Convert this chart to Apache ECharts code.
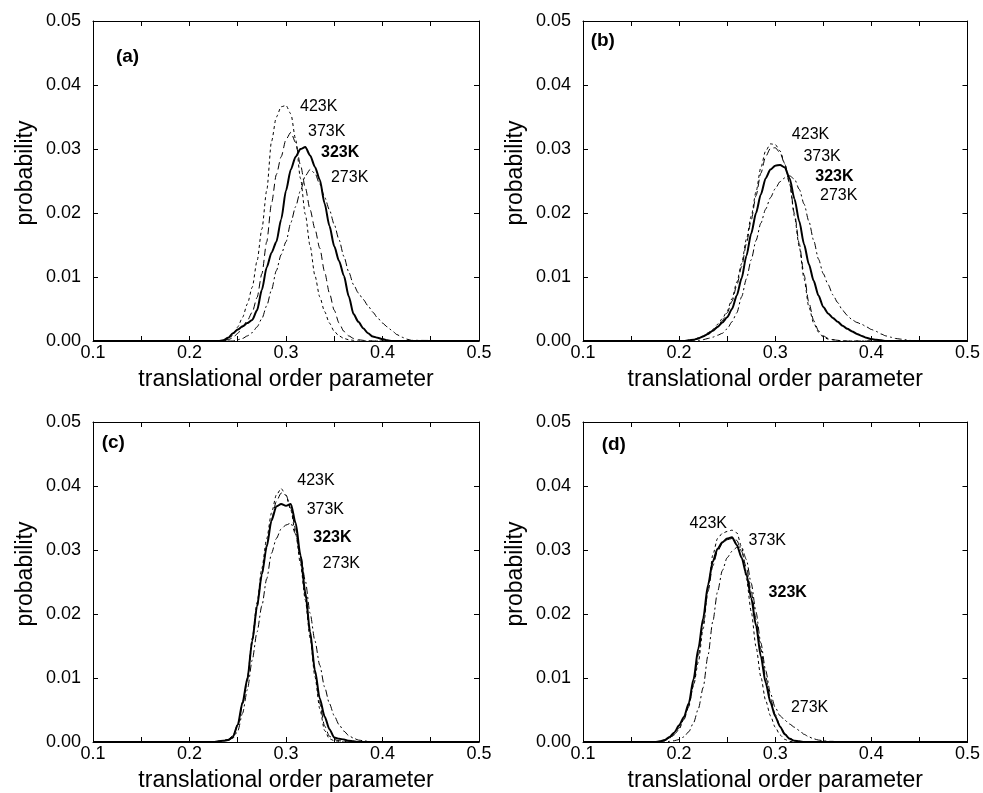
<!DOCTYPE html>
<html><head><meta charset="utf-8">
<script src="https://cdn.jsdelivr.net/npm/echarts@6/dist/echarts.min.js"></script>
<style>html,body{margin:0;padding:0;background:#fff}#c{width:983px;height:793px}</style>
</head><body><div id="c"></div>
<script>
// ---------- DATA ----------
const xAxisTitle = 'translational order parameter';
const yAxisTitle = 'probability';
const tempLabels = ['423K', '373K', '323K', '273K'];
const panelNames = ['(a)', '(b)', '(c)', '(d)'];

// panel (a)
const xsA = [0.1,0.23,0.235,0.24,0.245,0.25,0.255,0.26,0.265,0.27,0.275,0.28,0.285,0.29,0.295,0.30,0.305,0.31,0.315,0.32,0.325,0.33,0.335,0.34,0.345,0.35,0.355,0.36,0.365,0.37,0.375,0.38,0.385,0.39,0.395,0.40,0.405,0.41,0.415,0.42,0.425,0.43,0.5];
const a423 = [0,0,0.0001,0.0003,0.0009,0.0022,0.0037,0.0058,0.0084,0.0125,0.0175,0.0235,0.0312,0.0350,0.0366,0.0368,0.0355,0.0315,0.0254,0.0198,0.0148,0.0102,0.0069,0.0046,0.0028,0.0015,0.0008,0.0004,0.0002,0.0001,0,0,0,0,0,0,0,0,0,0,0,0,0];
const a373 = [0,0,0,0.0002,0.0005,0.0012,0.0022,0.0032,0.0045,0.0068,0.0105,0.0155,0.0215,0.0260,0.0288,0.0315,0.0326,0.0310,0.0275,0.0240,0.0205,0.0175,0.0145,0.0108,0.0075,0.0048,0.0028,0.0015,0.0008,0.0004,0.0002,0.0001,0,0,0,0,0,0,0,0,0,0,0];
const a323 = [0,0,0.0001,0.0005,0.0012,0.0018,0.0023,0.0028,0.0033,0.0048,0.0080,0.0115,0.0138,0.0155,0.0190,0.0235,0.0268,0.0288,0.0300,0.0303,0.0290,0.0272,0.0252,0.0215,0.0180,0.0148,0.0125,0.0102,0.0070,0.0042,0.0030,0.0020,0.0012,0.0007,0.0005,0.0003,0.0001,0,0,0,0,0,0];
const a273 = [0,0,0,0,0,0.0002,0.0004,0.0008,0.0013,0.0022,0.0035,0.0055,0.0080,0.0110,0.0135,0.0155,0.0185,0.0210,0.0235,0.0258,0.0268,0.0262,0.0245,0.0225,0.0205,0.0182,0.0158,0.0132,0.0108,0.0088,0.0075,0.0065,0.0055,0.0045,0.0036,0.0028,0.0022,0.0016,0.0010,0.0006,0.0003,0.0001,0];

// panel (b)
const xsB = [0.1,0.20,0.205,0.21,0.215,0.22,0.225,0.23,0.235,0.24,0.245,0.25,0.255,0.26,0.265,0.27,0.275,0.28,0.285,0.29,0.295,0.30,0.305,0.31,0.315,0.32,0.325,0.33,0.335,0.34,0.345,0.35,0.355,0.36,0.365,0.37,0.375,0.38,0.385,0.39,0.395,0.40,0.405,0.41,0.415,0.42,0.425,0.43,0.435,0.44,0.445,0.45,0.5];
const b423 = [0,0,0,0.0001,0.0002,0.0005,0.0008,0.0013,0.0018,0.0026,0.0035,0.0047,0.0066,0.0092,0.0121,0.0159,0.0195,0.0233,0.0271,0.0297,0.0308,0.0307,0.0297,0.0277,0.0245,0.0195,0.0147,0.0097,0.0053,0.0028,0.0014,0.0006,0.0003,0.0002,0.0001,0,0,0,0,0,0,0,0,0,0,0,0,0,0,0,0,0,0];
const b373 = [0,0,0,0.0001,0.0002,0.0004,0.0007,0.0011,0.0016,0.0023,0.0032,0.0044,0.0062,0.0087,0.0116,0.0152,0.0189,0.0227,0.0262,0.0288,0.0301,0.0302,0.0294,0.0276,0.0246,0.0199,0.0152,0.0103,0.0060,0.0032,0.0016,0.0008,0.0004,0.0002,0.0001,0,0,0,0,0,0,0,0,0,0,0,0,0,0,0,0,0,0];
const b323 = [0,0,0,0.0001,0.0002,0.0004,0.0007,0.0011,0.0016,0.0022,0.0029,0.0037,0.0050,0.0071,0.0098,0.0133,0.0168,0.0200,0.0229,0.0254,0.0268,0.0274,0.0275,0.0271,0.0254,0.0222,0.0187,0.0151,0.0120,0.0094,0.0071,0.0053,0.0043,0.0036,0.0030,0.0024,0.0019,0.0015,0.0011,0.0008,0.0005,0.0003,0.0002,0.0001,0,0,0,0,0,0,0,0,0];
const b273 = [0,0,0,0,0,0.0001,0.0002,0.0004,0.0006,0.0009,0.0012,0.0019,0.0030,0.0044,0.0069,0.0097,0.0127,0.0157,0.0184,0.0206,0.0224,0.0238,0.0249,0.0255,0.0258,0.0253,0.0237,0.0214,0.0187,0.0157,0.0128,0.0105,0.0088,0.0072,0.0060,0.0048,0.0040,0.0033,0.0029,0.0026,0.0022,0.0018,0.0015,0.0011,0.0008,0.0006,0.0004,0.0003,0.0002,0.0001,0,0,0];

// panel (c)
const xsC = [0.1,0.22,0.225,0.23,0.235,0.24,0.245,0.25,0.255,0.26,0.265,0.27,0.275,0.28,0.285,0.29,0.295,0.30,0.305,0.31,0.315,0.32,0.325,0.33,0.335,0.34,0.345,0.35,0.355,0.36,0.365,0.37,0.375,0.38,0.385,0.39,0.395,0.40,0.5];
const c423 = [0,0,0,0.0001,0.0002,0.0004,0.0010,0.0028,0.0062,0.0101,0.0162,0.0218,0.0272,0.0318,0.0358,0.0386,0.0396,0.0385,0.0362,0.0325,0.0278,0.0222,0.0162,0.0102,0.0052,0.0018,0.0005,0.0002,0.0001,0,0,0,0,0,0,0,0,0,0];
const c373 = [0,0,0,0.0001,0.0002,0.0004,0.0009,0.0025,0.0058,0.0096,0.0155,0.0210,0.0262,0.0308,0.0348,0.0376,0.0389,0.0386,0.0365,0.0332,0.0284,0.0228,0.0168,0.0110,0.0060,0.0025,0.0009,0.0004,0.0002,0.0001,0,0,0,0,0,0,0,0,0];
const c323 = [0,0,0,0.0001,0.0002,0.0003,0.0008,0.0027,0.0062,0.0099,0.0158,0.0212,0.0262,0.0305,0.0346,0.0368,0.0372,0.0369,0.0372,0.0342,0.0292,0.0234,0.0172,0.0112,0.0068,0.0040,0.0020,0.0007,0.0005,0.0004,0.0002,0.0001,0,0,0,0,0,0,0];
const c273 = [0,0,0,0.0001,0.0002,0.0003,0.0006,0.0017,0.0045,0.0082,0.0128,0.0172,0.0213,0.0255,0.0295,0.0318,0.0333,0.0339,0.0342,0.0325,0.0294,0.0252,0.0201,0.0158,0.0120,0.0086,0.0060,0.0041,0.0027,0.0017,0.0010,0.0006,0.0003,0.0002,0.0001,0,0,0,0];

// panel (d)
const xsD = [0.1,0.17,0.175,0.18,0.185,0.19,0.195,0.20,0.205,0.21,0.215,0.22,0.225,0.23,0.235,0.24,0.245,0.25,0.255,0.26,0.265,0.27,0.275,0.28,0.285,0.29,0.295,0.30,0.305,0.31,0.315,0.32,0.325,0.33,0.335,0.34,0.345,0.35,0.355,0.36,0.365,0.37,0.5];
const d423 = [0,0,0,0.0001,0.0003,0.0006,0.0011,0.0020,0.0036,0.0057,0.0088,0.0125,0.0177,0.0236,0.0292,0.0318,0.0326,0.0329,0.0331,0.0327,0.0305,0.0255,0.0204,0.0149,0.0102,0.0065,0.0041,0.0023,0.0011,0.0004,0.0001,0,0,0,0,0,0,0,0,0,0,0,0];
const d373 = [0,0,0,0.0001,0.0002,0.0006,0.0012,0.0022,0.0035,0.0055,0.0090,0.0136,0.0185,0.0235,0.0275,0.0298,0.0310,0.0316,0.0318,0.0315,0.0298,0.0272,0.0235,0.0192,0.0145,0.0102,0.0068,0.0043,0.0025,0.0013,0.0006,0.0002,0.0001,0,0,0,0,0,0,0,0,0,0];
const d323 = [0,0,0,0.0001,0.0003,0.0008,0.0015,0.0026,0.0039,0.0060,0.0098,0.0146,0.0193,0.0245,0.0282,0.0302,0.0312,0.0318,0.0320,0.0308,0.0288,0.0262,0.0225,0.0182,0.0134,0.0093,0.0062,0.0040,0.0024,0.0012,0.0005,0.0002,0.0001,0,0,0,0,0,0,0,0,0,0];
const d273 = [0,0,0,0,0,0.0001,0.0002,0.0004,0.0008,0.0016,0.0030,0.0052,0.0085,0.0135,0.0188,0.0235,0.0268,0.0288,0.0298,0.0304,0.0305,0.0285,0.0248,0.0203,0.0155,0.0112,0.0076,0.0054,0.0041,0.0034,0.0028,0.0023,0.0018,0.0012,0.0008,0.0005,0.0003,0.0002,0.0001,0.0001,0,0,0];

// ---------- LAYOUT (annotation anchors in data units) ----------
const labelAnchors = [
  [[0.3145,0.0366],[0.3228,0.0327],[0.3363,0.0294],[0.3466,0.0256]],
  [[0.3173,0.0322],[0.3293,0.0288],[0.3417,0.0257],[0.3466,0.0227]],
  [[0.3117,0.0409],[0.3214,0.03625],[0.3283,0.0320],[0.3380,0.0278]],
  [[0.2109,0.0342],[0.2723,0.0314],[0.2931,0.0234],[0.3163,0.0053]]
];
const panelAnchors = [[0.1238,0.0444],[0.1080,0.0469],[0.1090,0.0467],[0.1194,0.0464]];
const grids = [
  {left: 93, top: 21, width: 386, height: 320},
  {left: 583, top: 21, width: 386, height: 320},
  {left: 93, top: 422, width: 386, height: 320},
  {left: 583, top: 422, width: 386, height: 320}
];
const lineStyles = [
  {type: [3, 3], width: 1},
  {type: [7, 4], width: 1},
  {type: 'solid', width: 2},
  {type: [7, 3, 2, 3], width: 1}
];

const panels = [
  {xs: xsA, ys: [a423, a373, a323, a273]},
  {xs: xsB, ys: [b423, b373, b323, b273]},
  {xs: xsC, ys: [c423, c373, c323, c273]},
  {xs: xsD, ys: [d423, d373, d323, d273]}
];

const FONT = 'Liberation Sans, Arial, Helvetica, sans-serif';
const chart = echarts.init(document.getElementById('c'), null, {renderer: 'canvas'});
const xAxes = [], yAxes = [], series = [];
const tick = {show: true, inside: true, length: 5, lineStyle: {color: '#000', width: 1}};
const axLine = {show: true, onZero: false, lineStyle: {color: '#000', width: 1}};

panels.forEach((p, g) => {
  xAxes.push({
    gridIndex: g, type: 'value', position: 'bottom', min: 0.1, max: 0.5, interval: 0.1,
    axisLine: axLine, axisTick: tick,
    minorTick: {show: true, splitNumber: 2, length: 5, lineStyle: {color: '#000', width: 1}},
    splitLine: {show: false},
    axisLabel: {formatter: v => v.toFixed(1), fontSize: 18, color: '#000', fontFamily: FONT, margin: 3},
    name: xAxisTitle, nameLocation: 'middle', nameGap: 27,
    nameTextStyle: {fontSize: 23, color: '#000', fontFamily: FONT}
  });
  xAxes.push({
    gridIndex: g, type: 'value', position: 'top', min: 0.1, max: 0.5, interval: 0.1,
    axisLine: axLine, axisTick: tick,
    minorTick: {show: true, splitNumber: 2, length: 5, lineStyle: {color: '#000', width: 1}},
    splitLine: {show: false}, axisLabel: {show: false}
  });
  yAxes.push({
    gridIndex: g, type: 'value', position: 'left', min: 0, max: 0.05, interval: 0.01,
    axisLine: axLine, axisTick: tick, splitLine: {show: false},
    axisLabel: {formatter: v => v.toFixed(2), fontSize: 18, color: '#000', fontFamily: FONT, margin: 12},
    name: yAxisTitle, nameLocation: 'middle', nameGap: 56,
    nameTextStyle: {fontSize: 23, color: '#000', fontFamily: FONT, padding: [0, 0, 0, 16]}
  });
  yAxes.push({
    gridIndex: g, type: 'value', position: 'right', min: 0, max: 0.05, interval: 0.01,
    axisLine: axLine, axisTick: tick, splitLine: {show: false}, axisLabel: {show: false}
  });
  p.ys.forEach((ys, k) => {
    series.push({
      type: 'line', xAxisIndex: 2 * g, yAxisIndex: 2 * g, name: tempLabels[k],
      data: p.xs.map((x, i) => [x, ys[i]]),
      symbol: 'none', smooth: 0.25, smoothMonotone: 'x', silent: true,
      lineStyle: {color: '#000', width: lineStyles[k].width, type: lineStyles[k].type},
      z: k === 2 ? 4 : 3
    });
  });
  series.push({
    type: 'scatter', xAxisIndex: 2 * g, yAxisIndex: 2 * g, symbolSize: 0, silent: true, z: 10,
    itemStyle: {opacity: 1, color: '#000'},
    data: labelAnchors[g].map((a, k) => ({
      value: a,
      label: {show: true, position: 'right', distance: 0, formatter: tempLabels[k], opacity: 1,
        fontSize: 16, color: '#000', fontFamily: FONT, fontWeight: k === 2 ? 'bold' : 'normal'}
    }))
  });
  series.push({
    type: 'scatter', xAxisIndex: 2 * g, yAxisIndex: 2 * g, symbolSize: 0, silent: true, z: 10,
    itemStyle: {opacity: 1, color: '#000'},
    data: [{value: panelAnchors[g],
      label: {show: true, position: 'right', distance: 0, formatter: panelNames[g], opacity: 1,
        fontSize: 19, color: '#000', fontFamily: FONT, fontWeight: 'bold'}}]
  });
});

chart.setOption({
  animation: false,
  backgroundColor: '#fff',
  grid: grids,
  xAxis: xAxes,
  yAxis: yAxes,
  series: series
});
</script></body></html>
